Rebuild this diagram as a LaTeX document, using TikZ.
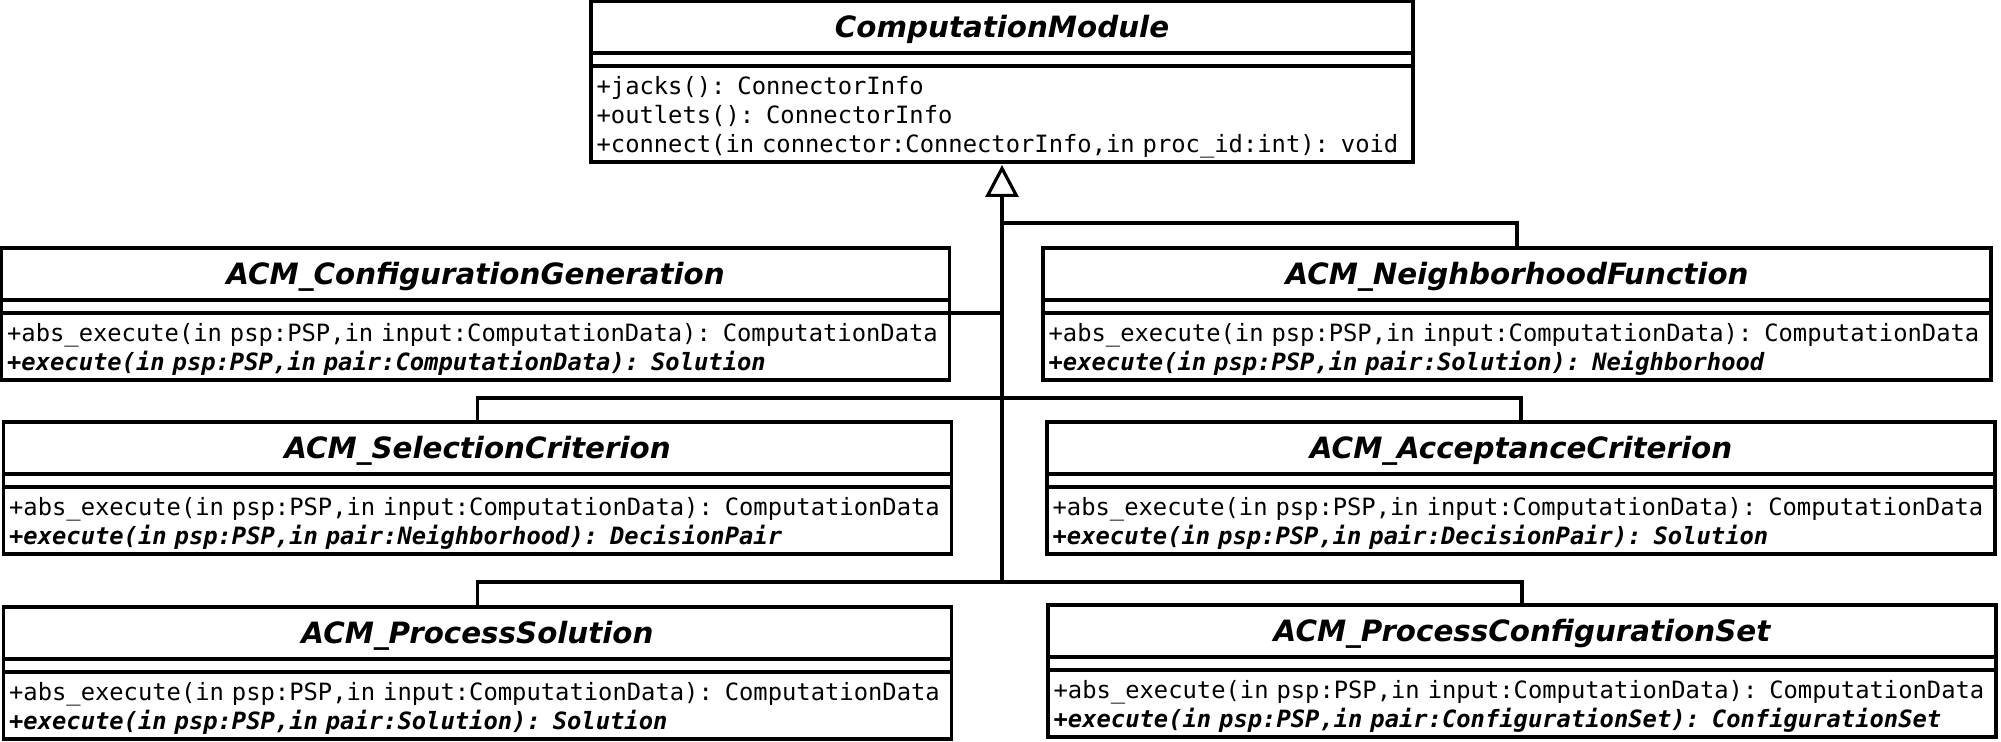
\documentclass[tikz,border=0pt]{standalone}
\usepackage{fontspec}
\setmainfont{DejaVu Sans}
\setmonofont{DejaVu Sans Mono}
\usetikzlibrary{arrows.meta, positioning}

\begin{document}
\begin{tikzpicture}[
    x=0.02cm, y=-0.02cm,
    classname/.style={rectangle, draw, line width=1.9pt, outer sep=0pt, minimum height=1.04cm, text height=12.2pt, text depth=0pt, font=\fontsize{16.7}{20}\selectfont\bfseries\itshape},
    classattr/.style={rectangle, draw, line width=1.9pt, outer sep=0pt, minimum height=0.26cm, inner sep=0pt},
    classops/.style={rectangle, draw, line width=1.9pt, outer sep=0pt, inner xsep=0.11cm, inner ysep=0pt, align=left, execute at begin node={\rule{0pt}{1em}}, font=\ttfamily\fontsize{13.55}{16.5}\selectfont},
    wide/.style={minimum width=18.96cm},
    wideops/.style={text width=18.74cm, minimum height=1.34cm},
    link/.style={line width=1.8pt},
    inherit/.style={-{Triangle[open, length=0.64cm, width=0.66cm]}, line width=1.8pt}
]
    \useasboundingbox (0,0) rectangle (2001,742);

    % Base class
    \node[classname, minimum width=16.44cm] at (1002,27) (cm) {ComputationModule};
    \node[classattr, minimum width=16.44cm, below=0pt of cm] (cm-a) {};
    \node[classops, text width=16.22cm, minimum height=1.92cm, below=0pt of cm-a] (cm-o) {+jacks(): ConnectorInfo\\+outlets(): ConnectorInfo\\+connect(in connector:ConnectorInfo,in proc\_id:int): void};

    % Subclasses
    \node[classname, wide] at (475.5,274) (cg) {ACM\_ConfigurationGeneration};
    \node[classattr, wide, below=0pt of cg] (cg-a) {};
    \node[classops, wideops, below=0pt of cg-a] (cg-o) {+abs\_execute(in psp:PSP,in input:ComputationData): ComputationData\\{\bfseries\itshape +execute(in psp:PSP,in pair:ComputationData): Solution}};

    \node[classname, wide] at (1517,274) (nf) {ACM\_NeighborhoodFunction};
    \node[classattr, wide, below=0pt of nf] (nf-a) {};
    \node[classops, wideops, below=0pt of nf-a] (nf-o) {+abs\_execute(in psp:PSP,in input:ComputationData): ComputationData\\{\bfseries\itshape +execute(in psp:PSP,in pair:Solution): Neighborhood}};

    \node[classname, wide] at (477.5,448) (sc) {ACM\_SelectionCriterion};
    \node[classattr, wide, below=0pt of sc] (sc-a) {};
    \node[classops, wideops, below=0pt of sc-a] (sc-o) {+abs\_execute(in psp:PSP,in input:ComputationData): ComputationData\\{\bfseries\itshape +execute(in psp:PSP,in pair:Neighborhood): DecisionPair}};

    \node[classname, wide] at (1521,448) (ac) {ACM\_AcceptanceCriterion};
    \node[classattr, wide, below=0pt of ac] (ac-a) {};
    \node[classops, wideops, below=0pt of ac-a] (ac-o) {+abs\_execute(in psp:PSP,in input:ComputationData): ComputationData\\{\bfseries\itshape +execute(in psp:PSP,in pair:DecisionPair): Solution}};

    \node[classname, wide] at (477.5,633) (ps) {ACM\_ProcessSolution};
    \node[classattr, wide, below=0pt of ps] (ps-a) {};
    \node[classops, wideops, below=0pt of ps-a] (ps-o) {+abs\_execute(in psp:PSP,in input:ComputationData): ComputationData\\{\bfseries\itshape +execute(in psp:PSP,in pair:Solution): Solution}};

    \node[classname, wide] at (1522,631) (pcs) {ACM\_ProcessConfigurationSet};
    \node[classattr, wide, below=0pt of pcs] (pcs-a) {};
    \node[classops, wideops, below=0pt of pcs-a] (pcs-o) {+abs\_execute(in psp:PSP,in input:ComputationData): ComputationData\\{\bfseries\itshape +execute(in psp:PSP,in pair:ConfigurationSet): ConfigurationSet}};

    % Generalization
    \coordinate (j1) at (1002,223);
    \coordinate (j2) at (1002,398);
    \coordinate (hub) at (1002,582);
    \draw[inherit] (hub) -- ([yshift=-0.06cm]cm-o.south);
    \draw[link] (cg-o.north east) -- (cg-o.north east -| hub);
    \draw[link] (nf.north) |- (j1);
    \draw[link] (sc.north) |- (j2);
    \draw[link] (ac.north) |- (j2);
    \draw[link] (ps.north) |- (hub);
    \draw[link] (pcs.north) |- (hub);
\end{tikzpicture}
\end{document}
